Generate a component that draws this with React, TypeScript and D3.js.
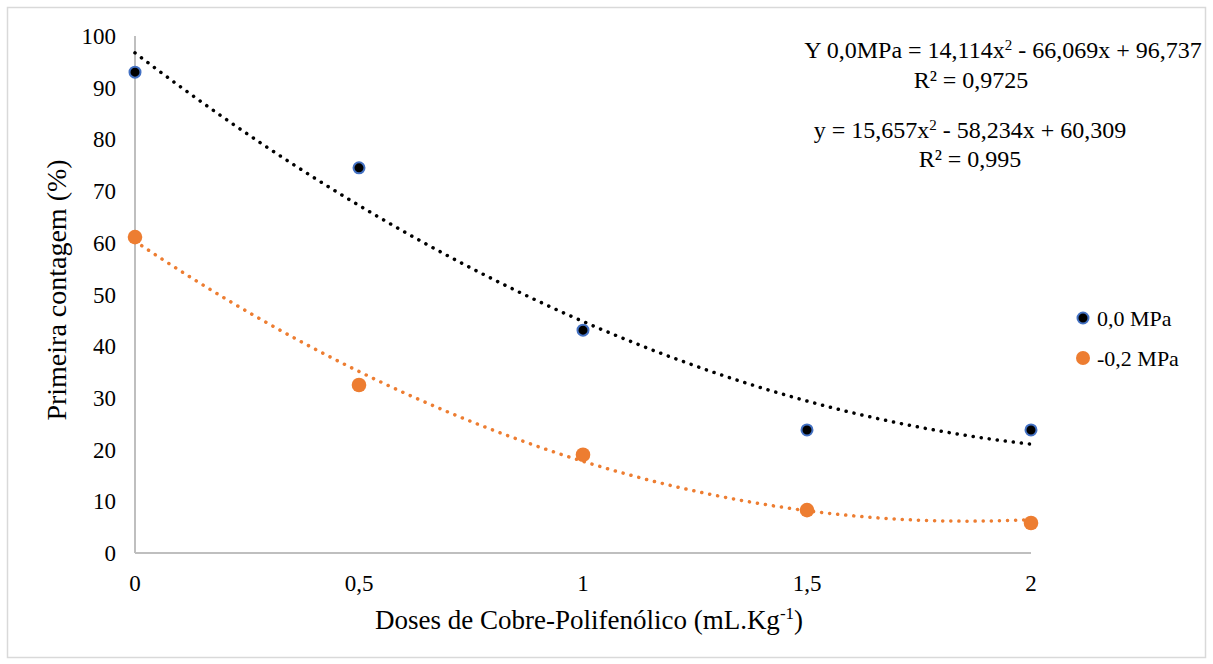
import React from 'react';
import * as d3 from 'd3';

// doses (mL.Kg-1)
const doses = [0, 0.5, 1, 1.5, 2];
const serie00 = [93.0, 74.5, 43.1, 23.8, 23.8];
const serie02 = [61.1, 32.5, 19.0, 8.3, 5.8];
const coef00 = [14.114, -66.069, 96.737];
const coef02 = [15.657, -58.234, 60.309];
const yTicks = [0, 10, 20, 30, 40, 50, 60, 70, 80, 90, 100];
const xTickLabels = ['0', '0,5', '1', '1,5', '2'];
const legendLabels = ['0,0 MPa', '-0,2 MPa'];

const W = 1213;
const H = 664;
const font = "'Liberation Serif', 'DejaVu Serif', serif";

const App: React.FC = () => {
  const x = d3.scaleLinear().domain([0, 2]).range([135, 1031]);
  const y = d3.scaleLinear().domain([0, 100]).range([553, 36]);

  const trend = (c: number[]) => {
    const pts = d3.range(0, 2.0001, 0.02).map(v => [v, c[0] * v * v + c[1] * v + c[2]] as [number, number]);
    return d3.line<[number, number]>().x(d => x(d[0])).y(d => y(d[1]))(pts) || '';
  };

  return (
    <svg width={W} height={H} style={{ position: 'absolute', left: 0, top: 0, background: '#fff', fontFamily: font }}>
      <rect x={7.5} y={7.5} width={1198} height={650} fill="#fff" stroke="#d9d9d9" strokeWidth={1.5} />

      {/* axes */}
      <line x1={x(0)} x2={x(0)} y1={y(100)} y2={y(0)} stroke="#bfbfbf" strokeWidth={2} />
      <line x1={x(0)} x2={x(2)} y1={y(0)} y2={y(0)} stroke="#bfbfbf" strokeWidth={2} />

      {yTicks.map(t => (
        <text key={t} x={116} y={y(t)} dy="0.35em" textAnchor="end" fontSize={23} fill="#000">{t}</text>
      ))}
      {doses.map((d, i) => (
        <text key={d} x={x(d)} y={583} dy="0.35em" textAnchor="middle" fontSize={23} fill="#000">{xTickLabels[i]}</text>
      ))}

      {/* trendlines */}
      <path d={trend(coef00)} fill="none" stroke="#000" strokeWidth={3.5} strokeDasharray="0.1 8" strokeLinecap="round" />
      <path d={trend(coef02)} fill="none" stroke="#ED7D31" strokeWidth={3.5} strokeDasharray="0.1 8" strokeLinecap="round" />

      {/* points */}
      {doses.map((d, i) => (
        <circle key={'a' + d} cx={x(d)} cy={y(serie00[i])} r={5.5} fill="#000" stroke="#4472C4" strokeWidth={2} />
      ))}
      {doses.map((d, i) => (
        <circle key={'b' + d} cx={x(d)} cy={y(serie02[i])} r={7.3} fill="#ED7D31" />
      ))}

      {/* equations */}
      <text x={1003} y={58} textAnchor="middle" fontSize={24}>Y 0,0MPa = 14,114x<tspan dy={-8} fontSize={15}>2</tspan><tspan dy={8}> - 66,069x + 96,737</tspan></text>
      <text x={971} y={88} textAnchor="middle" fontSize={24}>R² = 0,9725</text>
      <text x={970} y={138} textAnchor="middle" fontSize={24}>y = 15,657x<tspan dy={-8} fontSize={15}>2</tspan><tspan dy={8}> - 58,234x + 60,309</tspan></text>
      <text x={970} y={167} textAnchor="middle" fontSize={24}>R² = 0,995</text>

      {/* legend */}
      <circle cx={1083} cy={318} r={5.5} fill="#000" stroke="#4472C4" strokeWidth={2} />
      <text x={1097} y={318} dy="0.35em" fontSize={22}>{legendLabels[0]}</text>
      <circle cx={1083} cy={358} r={7} fill="#ED7D31" />
      <text x={1097} y={358} dy="0.35em" fontSize={22}>{legendLabels[1]}</text>

      {/* axis titles */}
      <text x={589} y={629} textAnchor="middle" fontSize={27}>Doses de Cobre-Polifenólico (mL.Kg<tspan dy={-10} fontSize={17}>-1</tspan><tspan dy={10}>)</tspan></text>
      <text transform={`translate(66,290) rotate(-90)`} textAnchor="middle" fontSize={28}>Primeira contagem (%)</text>
    </svg>
  );
};

export default App;
